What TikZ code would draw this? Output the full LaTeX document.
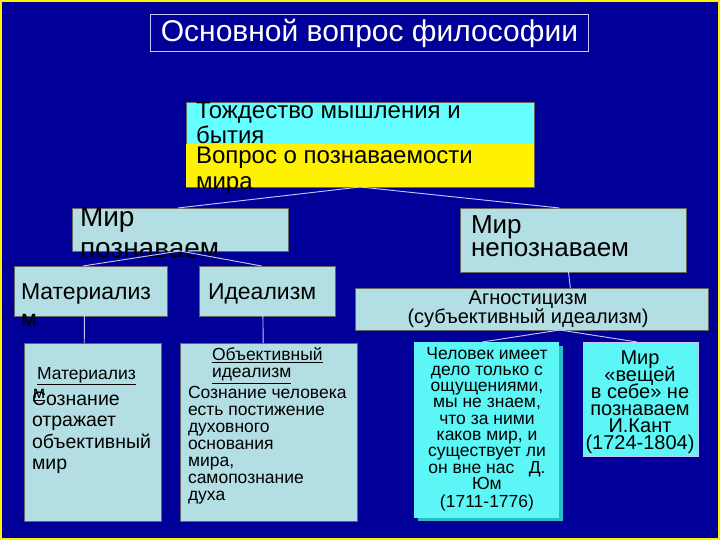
\documentclass[tikz,border=0pt]{standalone}
\usepackage{fontspec}
\setmainfont{Liberation Sans}
\usetikzlibrary{calc}
\definecolor{bg}{RGB}{0,0,153}
\definecolor{cyanbox}{RGB}{102,255,255}
\definecolor{lightbox}{RGB}{178,222,228}
\definecolor{brightcyan}{RGB}{92,246,246}
\definecolor{shadowcyan}{RGB}{40,190,200}
\definecolor{lav}{RGB}{200,200,255}
\newcommand{\fs}[2]{\fontsize{#1}{#2}\selectfont\lineskiplimit=-50pt\relax}
\tikzset{
  boxnode/.style={anchor=north west, inner sep=0pt, outer sep=0pt, draw=black!60, line width=0.6pt},
  txt/.style={anchor=north west, inner sep=0pt, outer sep=0pt, align=left, text=black},
  ctxt/.style={inner sep=0pt, outer sep=0pt, align=center, text=black},
  link/.style={draw=lav, line width=0.9pt}
}
\begin{document}
\begin{tikzpicture}[x=1pt,y=-1pt]
\useasboundingbox (0,0) rectangle (720,540);
\fill[bg] (0,0) rectangle (720,540);
\draw[yellow, line width=2.5pt] (1.2,1.2) rectangle (718.8,538.8);

% title
\node[anchor=north west, draw=lav, line width=1pt, minimum width=438, minimum height=37, inner sep=0pt, text=white, font=\fs{30}{34}] (title) at (150,14) {Основной вопрос философии};

% top boxes
\node[boxnode, fill=cyanbox, minimum width=348, minimum height=42] (tozh) at (186,102) {};
\node[boxnode, fill=yellow, minimum width=348, minimum height=43] (vopr) at (186,144) {};
\node[txt, font=\fs{24}{25}] (tozhT) at (196,101.5) {\strut Тождество мышления и\\бытия};
\fill[yellow] (186.3,144.3) rectangle (533.7,186.7);
\node[txt, font=\fs{24}{26}] (voprT) at (196,145) {\strut Вопрос о познаваемости\\мира};

% second level
\node[boxnode, fill=lightbox, minimum width=216, minimum height=43] (mp) at (72,208) {};
\node[txt, font=\fs{28}{31}] (mpT) at (80,204.5) {\strut Мир\\познаваем};
\node[boxnode, fill=lightbox, minimum width=226, minimum height=64] (mn) at (460,208) {};
\node[txt, font=\fs{26}{23}] (mnT) at (471,216) {\strut Мир\\непознаваем};

% third level
\node[boxnode, fill=lightbox, minimum width=153, minimum height=50] (mat) at (14,266) {};
\node[txt, font=\fs{23}{27}] (matT) at (21,281) {\strut Материализ\\м};
\node[boxnode, fill=lightbox, minimum width=136, minimum height=50] (ide) at (199,266) {};
\node[txt, font=\fs{23}{26}] (ideT) at (208,281.5) {\strut Идеализм};
\node[boxnode, fill=lightbox, minimum width=353, minimum height=42] (agn) at (355,288) {};
\node[ctxt, font=\fs{20}{19}] (agnT) at (528,309) {Агностицизм\\(субъективный идеализм)};

% bottom boxes
\node[boxnode, fill=lightbox, minimum width=137, minimum height=178] (matB) at (24,343) {};
\node[txt, font=\fs{17.5}{20}] (matH) at (37,365) {\strut\underline{Материализ}\\[-0.5pt]\hspace*{-4pt}\underline{м}};
\node[txt, font=\fs{19.5}{21.5}] (matBT) at (32,390) {\strut Сознание\\отражает\\объективный\\мир};

\node[boxnode, fill=lightbox, minimum width=177, minimum height=178] (ideB) at (180,343) {};
\node[txt, font=\fs{17.5}{17}] (ideH) at (212,348) {\strut\underline{Объективный}\\\underline{идеализм}};
\node[txt, font=\fs{17.5}{17}] (ideBT) at (188,386) {\strut Сознание человека\\есть постижение\\духовного\\основания\\мира,\\самопознание\\духа};

\fill[shadowcyan] (418,346) rectangle (563,521);
\node[boxnode, draw=none, fill=brightcyan, minimum width=145, minimum height=176] (hum) at (414,342) {};
\node[ctxt, font=\fs{17.5}{16.3}, anchor=north] (humT) at (487,347) {\strut Человек имеет\\дело только с\\ощущениями,\\мы не знаем,\\что за ними\\каков мир, и\\существует ли\\он вне нас\ \ \ Д.\\Юм\\[2pt](1711-1776)};

\node[boxnode, draw=lav, line width=0.8pt, fill=brightcyan, minimum width=115, minimum height=114] (kant) at (583,342) {};
\node[ctxt, font=\fs{20}{17}, anchor=north] (kantT) at (640,351) {\strut Мир\\«вещей\\в себе» не\\познаваем\\И.Кант\\(1724-1804)};

% connectors
\draw[link] (vopr.south) -- ($(mp.north west)!0.49!(mp.north east)$);
\draw[link] (vopr.south) -- ($(mn.north west)!0.44!(mn.north east)$);
\draw[link] ($(mp.south west)!0.5!(mp.south east)$) -- ($(mat.north west)!0.45!(mat.north east)$);
\draw[link] ($(mp.south west)!0.5!(mp.south east)$) -- ($(ide.north west)!0.46!(ide.north east)$);
\draw[link] ($(mat.south west)!0.46!(mat.south east)$) -- ($(matB.north west)!0.44!(matB.north east)$);
\draw[link] ($(ide.south west)!0.47!(ide.south east)$) -- ($(ideB.north west)!0.47!(ideB.north east)$);
\draw[link] ($(mn.south west)!0.48!(mn.south east)$) -- ($(agn.north west)!0.61!(agn.north east)$);
\draw[link] ($(agn.south west)!0.58!(agn.south east)$) -- ($(hum.north west)!0.47!(hum.north east)$);
\draw[link] ($(agn.south west)!0.58!(agn.south east)$) -- ($(kant.north west)!0.47!(kant.north east)$);
\end{tikzpicture}
\end{document}
